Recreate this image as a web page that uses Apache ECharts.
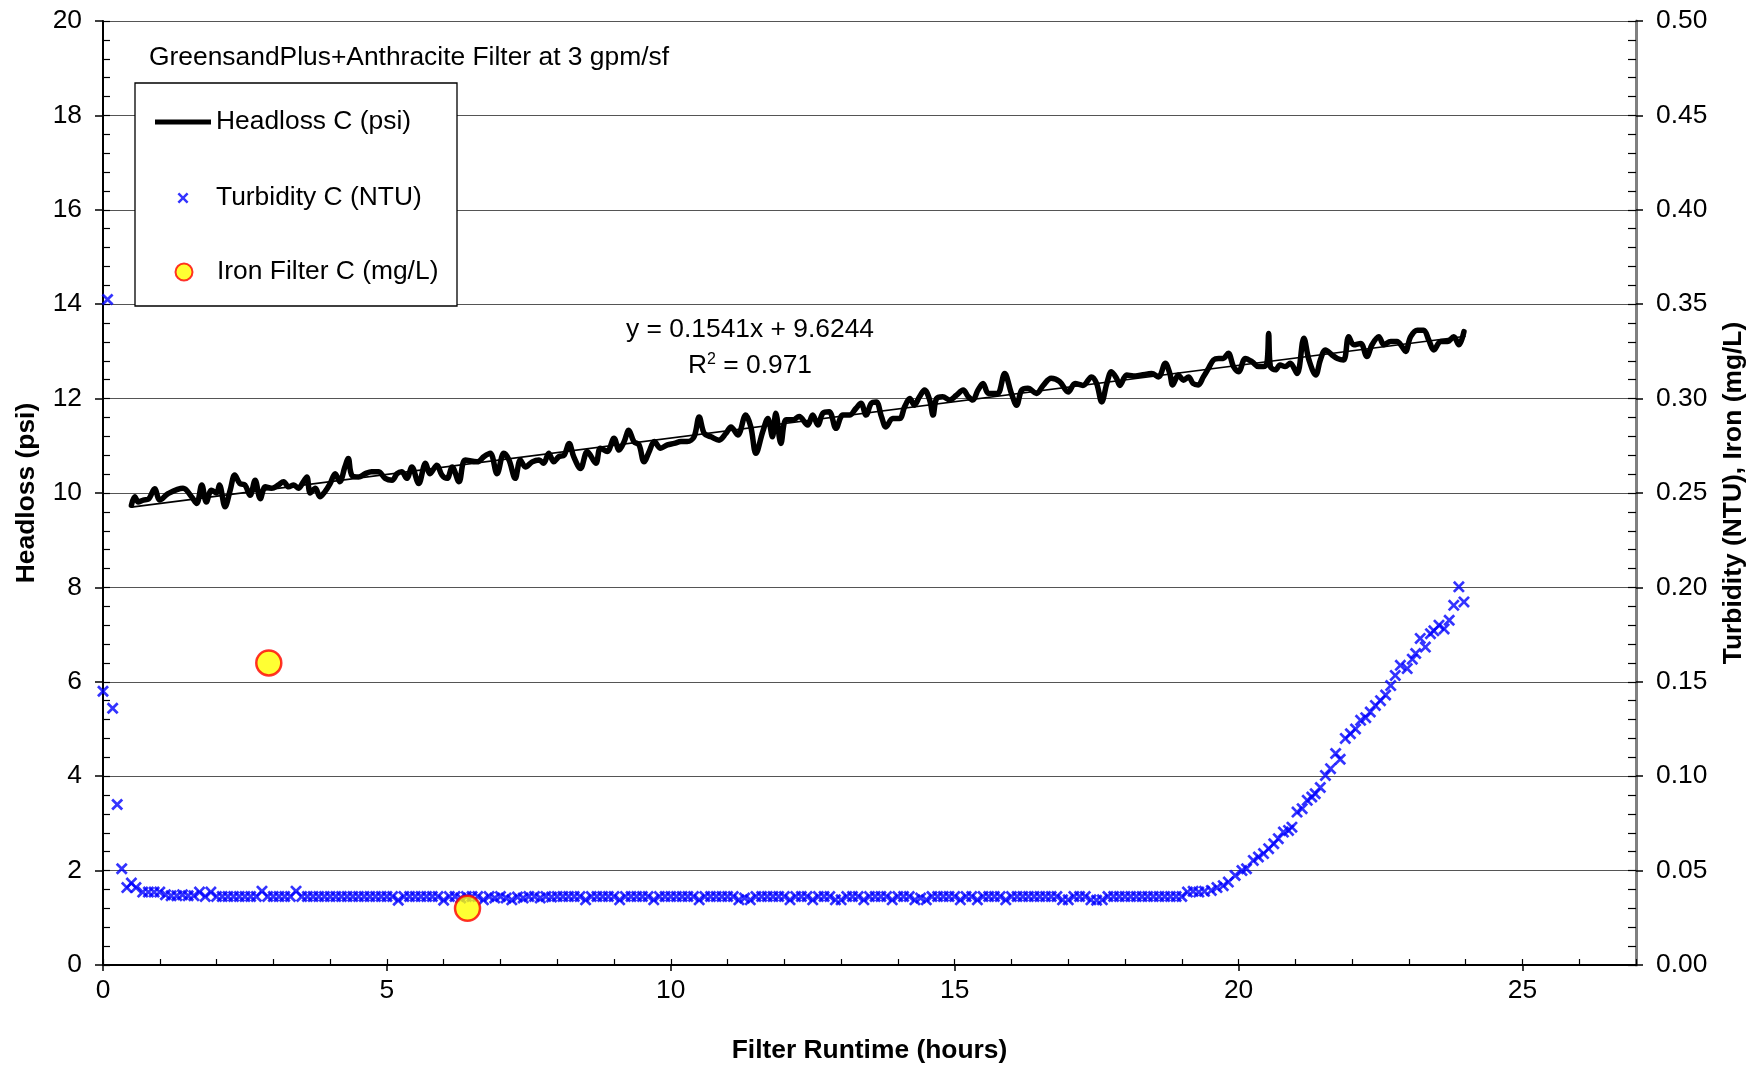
<!DOCTYPE html>
<html>
<head>
<meta charset="utf-8">
<script src="https://cdn.jsdelivr.net/npm/echarts@6/dist/echarts.min.js"></script>
<style>html,body{margin:0;padding:0;background:#fff}#chart{width:1760px;height:1065px}</style>
</head>
<body>
<div id="chart"></div>
<script>
// ---- Data ----
const chartTitle = 'GreensandPlus+Anthracite Filter at 3 gpm/sf';
const seriesNames = ['Headloss C (psi)', 'Turbidity C (NTU)', 'Iron Filter C (mg/L)'];
const xTickValues = [0, 5, 10, 15, 20, 25];
const trendEquation = 'y = 0.1541x + 9.6244';
const trendR2 = '0.971';

// Headloss C (psi) vs filter runtime (hours)
const headTime = [0.50,0.56,0.62,0.71,0.80,0.91,1.00,1.15,1.41,1.56,1.65,1.74,1.82,1.91,2.00,2.05,2.15,2.24,2.32,2.41,2.50,2.59,2.68,2.77,2.86,2.97,3.09,3.18,3.27,3.36,3.44,3.53,3.59,3.65,3.74,3.82,3.91,4.00,4.09,4.17,4.26,4.32,4.38,4.50,4.62,4.73,4.85,4.97,5.09,5.18,5.26,5.35,5.44,5.56,5.68,5.76,5.88,5.97,6.06,6.15,6.27,6.38,6.59,6.71,6.82,6.94,7.06,7.15,7.26,7.35,7.44,7.56,7.68,7.76,7.85,7.94,8.03,8.12,8.21,8.29,8.41,8.53,8.68,8.76,8.88,9.00,9.09,9.18,9.26,9.35,9.44,9.53,9.62,9.71,9.82,9.94,10.06,10.18,10.29,10.41,10.50,10.59,10.71,10.85,10.97,11.06,11.18,11.32,11.41,11.50,11.62,11.71,11.79,11.85,11.94,12.03,12.15,12.26,12.41,12.50,12.59,12.68,12.79,12.91,13.03,13.15,13.26,13.35,13.44,13.53,13.62,13.71,13.79,13.91,14.03,14.12,14.21,14.29,14.38,14.47,14.56,14.62,14.68,14.79,14.91,15.03,15.15,15.24,15.32,15.41,15.50,15.59,15.68,15.76,15.88,16.00,16.09,16.18,16.29,16.44,16.56,16.70,16.85,17.00,17.12,17.26,17.41,17.50,17.59,17.68,17.76,17.85,17.91,18.03,18.15,18.29,18.47,18.59,18.71,18.79,18.84,18.94,19.03,19.12,19.20,19.29,19.38,19.47,19.56,19.65,19.73,19.82,19.91,20.00,20.12,20.24,20.35,20.44,20.50,20.53,20.56,20.65,20.73,20.82,20.91,21.03,21.15,21.24,21.36,21.44,21.53,21.65,21.74,21.85,21.94,22.03,22.15,22.26,22.35,22.47,22.56,22.68,22.79,22.88,22.94,23.03,23.15,23.26,23.35,23.44,23.56,23.68,23.79,23.88,23.97];
const headPsi = [9.74,9.92,9.81,9.85,9.87,10.09,9.85,9.99,10.10,9.92,9.78,10.17,9.81,10.06,10.00,10.17,9.71,10.06,10.38,10.20,10.17,9.95,10.27,9.88,10.13,10.10,10.17,10.24,10.13,10.17,10.10,10.24,10.34,10.00,10.10,9.92,10.03,10.20,10.41,10.24,10.55,10.73,10.38,10.34,10.41,10.45,10.45,10.31,10.27,10.41,10.45,10.31,10.55,10.20,10.63,10.41,10.59,10.38,10.31,10.55,10.24,10.70,10.66,10.77,10.84,10.41,10.84,10.70,10.31,10.70,10.55,10.66,10.70,10.63,10.84,10.66,10.77,10.80,11.05,10.77,10.52,10.88,10.63,10.95,10.88,11.16,10.91,11.09,11.33,11.09,11.02,10.66,10.88,11.09,10.95,11.02,11.05,11.09,11.09,11.19,11.61,11.26,11.19,11.12,11.26,11.40,11.23,11.65,11.40,10.84,11.30,11.58,11.19,11.69,11.05,11.55,11.55,11.62,11.44,11.65,11.44,11.69,11.72,11.37,11.65,11.65,11.79,11.90,11.65,11.90,11.93,11.62,11.40,11.58,11.58,11.83,12.00,11.86,12.04,12.18,11.97,11.65,12.00,12.04,11.97,12.07,12.18,12.04,11.97,12.18,12.32,12.11,12.11,12.11,12.53,12.11,11.86,12.18,12.22,12.11,12.28,12.43,12.36,12.14,12.32,12.28,12.46,12.32,11.93,12.32,12.57,12.43,12.28,12.50,12.48,12.50,12.53,12.46,12.75,12.53,12.29,12.50,12.39,12.46,12.32,12.29,12.46,12.64,12.82,12.85,12.85,12.96,12.68,12.57,12.85,12.78,12.68,12.68,12.75,13.38,12.68,12.61,12.71,12.68,12.75,12.53,13.28,12.82,12.50,12.82,13.03,12.92,12.85,12.82,13.31,13.14,13.17,12.89,13.14,13.31,13.14,13.21,13.21,13.10,13.00,13.31,13.45,13.45,13.24,13.03,13.21,13.21,13.31,13.14,13.42];

// Linear trendline end points (psi)
const trendTime = [0.50, 24.00];
const trendPsi = [9.70, 13.32];

// Turbidity C (NTU)
const turbTime = [0,0.08,0.17,0.25,0.33,0.42,0.50,0.58,
0.7,0.8,0.9,
1.0,1.1,1.2,1.3,1.4,1.5,1.6,1.7,1.8,1.9,
2.0,2.1,2.2,2.3,2.4,2.5,2.6,2.7,2.8,2.9,
3.0,3.1,3.2,3.3,3.4,3.5,3.6,3.7,3.8,3.9,
4.0,4.1,4.2,4.3,4.4,4.5,4.6,4.7,4.8,4.9,
5.0,5.1,5.2,5.3,5.4,5.5,5.6,5.7,5.8,5.9,
6.0,6.1,6.2,6.3,6.4,6.5,6.6,6.7,6.8,6.9,
7.0,7.1,7.2,7.3,7.4,7.5,7.6,7.7,7.8,7.9,
8.0,8.1,8.2,8.3,8.4,8.5,8.6,8.7,8.8,8.9,
9.0,9.1,9.2,9.3,9.4,9.5,9.6,9.7,9.8,9.9,
10.0,10.1,10.2,10.3,10.4,10.5,10.6,10.7,10.8,10.9,
11.0,11.1,11.2,11.3,11.4,11.5,11.6,11.7,11.8,11.9,
12.0,12.1,12.2,12.3,12.4,12.5,12.6,12.7,12.8,12.9,
13.0,13.1,13.2,13.3,13.4,13.5,13.6,13.7,13.8,13.9,
14.0,14.1,14.2,14.3,14.4,14.5,14.6,14.7,14.8,14.9,
15.0,15.1,15.2,15.3,15.4,15.5,15.6,15.7,15.8,15.9,
16.0,16.1,16.2,16.3,16.4,16.5,16.6,16.7,16.8,16.9,
17.0,17.1,17.2,17.3,17.4,17.5,17.6,17.7,17.8,17.9,
18.0,18.1,18.2,18.3,18.4,18.5,18.6,18.7,18.8,18.9,
19.0,19.1,19.2,19.3,19.4,19.52,19.62,19.73,19.82,19.94,
20.06,20.14,20.26,20.35,20.44,20.53,20.62,20.70,20.79,20.88,20.94,
21.03,21.12,21.21,21.29,21.35,21.44,21.53,21.62,21.71,21.79,21.88,21.97,
22.06,22.15,22.24,22.32,22.41,22.50,22.59,22.68,22.76,22.85,22.97,
23.06,23.12,23.20,23.29,23.38,23.44,23.53,23.62,23.71,23.79,23.88,23.97];
const turbNTU = [0.145,0.3525,0.136,0.085,0.051,0.041,0.0434,0.041,
0.0386,0.0386,0.0386,
0.0386,0.0372,0.0367,0.0367,0.0372,0.0367,0.0367,0.0386,0.0363,0.0386,
0.0363,0.0363,0.0363,0.0363,0.0363,0.0363,0.0363,0.0363,0.0391,0.0363,
0.0363,0.0363,0.0363,0.0363,0.0391,0.0363,0.0363,0.0363,0.0363,0.0363,
0.0363,0.0363,0.0363,0.0363,0.0363,0.0363,0.0363,0.0363,0.0363,0.0363,
0.0363,0.0363,0.0343,0.0363,0.0363,0.0363,0.0363,0.0363,0.0363,0.0363,
0.0343,0.0363,0.0363,0.0355,0.0363,0.0363,0.0363,0.0345,0.0363,0.0355,
0.0363,0.0355,0.0345,0.0360,0.0355,0.0363,0.0363,0.0355,0.0363,0.0360,
0.0363,0.0363,0.0363,0.0363,0.0363,0.0345,0.0363,0.0363,0.0363,0.0363,
0.0363,0.0345,0.0363,0.0363,0.0363,0.0363,0.0363,0.0345,0.0363,0.0363,
0.0363,0.0363,0.0363,0.0363,0.0363,0.0345,0.0363,0.0363,0.0363,0.0363,
0.0363,0.0363,0.0345,0.0355,0.0345,0.0363,0.0363,0.0363,0.0363,0.0363,
0.0363,0.0345,0.0363,0.0363,0.0363,0.0345,0.0363,0.0363,0.0363,0.0345,
0.0345,0.0363,0.0363,0.0363,0.0345,0.0363,0.0363,0.0363,0.0363,0.0345,
0.0363,0.0363,0.0363,0.0345,0.0355,0.0345,0.0363,0.0363,0.0363,0.0363,
0.0363,0.0345,0.0363,0.0363,0.0345,0.0363,0.0363,0.0363,0.0363,0.0345,
0.0363,0.0363,0.0363,0.0363,0.0363,0.0363,0.0363,0.0363,0.0363,0.0345,
0.0345,0.0363,0.0363,0.0363,0.0345,0.0343,0.0345,0.0363,0.0363,0.0363,
0.0363,0.0363,0.0363,0.0363,0.0363,0.0363,0.0363,0.0363,0.0363,0.0363,
0.0363,0.0386,0.0390,0.0386,0.0390,0.0395,0.0410,0.0420,0.0439,0.0474,
0.0500,0.0510,0.0554,0.0572,0.0590,0.0616,0.0642,0.0669,0.0704,0.0713,0.0730,
0.0810,0.0828,0.0872,0.0890,0.0907,0.0940,0.1004,0.1040,0.1120,0.1090,0.1200,0.1225,
0.1250,0.1296,0.1310,0.1340,0.1375,0.1400,0.1430,0.1480,0.1534,0.1587,0.1570,
0.1620,0.1650,0.1730,0.1684,0.1755,0.1770,0.1800,0.1780,0.1826,0.1905,0.2003,0.1923];

// Iron Filter C (mg/L)
const ironTime = [2.92, 6.42];
const ironMgL = [0.160, 0.030];

// ---- Chart ----
const FONT = "'Liberation Sans', Arial, sans-serif";
const FS = 26.4;
const xMark = 'path://M0,1.6L1.6,0L5,3.4L8.4,0L10,1.6L6.6,5L10,8.4L8.4,10L5,6.6L1.6,10L0,8.4L3.4,5Z';
const zip = (a, b) => a.map((v, i) => [v, b[i]]);

const chart = echarts.init(document.getElementById('chart'), null, {renderer: 'canvas'});
const grid = {left: 103, right: 124, top: 21, bottom: 100, containLabel: false, outerBoundsMode: 'none'};
const legendText = {fontFamily: FONT, fontSize: FS, color: '#000', lineHeight: 26};

const option = {
  animation: false,
  backgroundColor: '#fff',
  textStyle: {fontFamily: FONT},
  title: {
    text: chartTitle, left: 149, top: 45, padding: 0,
    textStyle: {fontFamily: FONT, fontSize: FS, fontWeight: 'normal', color: '#000', lineHeight: 26}
  },
  grid: grid,
  graphic: [
    {type: 'rect', z: 3, shape: {x: 135, y: 83, width: 322, height: 223},
     style: {fill: '#fff', stroke: '#000', lineWidth: 1.3}},
    {type: 'text', z: 5, x: 750, y: 330,
     style: {text: trendEquation, font: FS + 'px ' + FONT, fill: '#000', align: 'center', verticalAlign: 'middle'}},
    {type: 'text', z: 5, x: 750, y: 366,
     style: {text: 'R{sup|2} = ' + trendR2, font: FS + 'px ' + FONT, fill: '#000', align: 'center', verticalAlign: 'middle',
       rich: {sup: {fontSize: 16, fontFamily: FONT, verticalAlign: 'top', padding: [0,0,12,0]}}}}
  ],
  legend: [
    {data: [{name: seriesNames[0], icon: 'rect'}], left: 155, top: 109, padding: 0,
     itemWidth: 56, itemHeight: 5, z: 4, textStyle: legendText},
    {data: [{name: seriesNames[1], icon: xMark}], left: 177.5, top: 185, padding: 0,
     itemWidth: 56, itemHeight: 11, z: 4, textStyle: legendText},
    {data: [{name: seriesNames[2], icon: 'circle', itemStyle: {color: '#ffff00', borderColor: '#ff0000', borderWidth: 2}}],
     left: 174.5, top: 259, padding: 0, itemWidth: 56, itemHeight: 17, z: 4, textStyle: legendText}
  ],
  xAxis: [
    {type: 'value', position: 'bottom', min: 0, max: 27, interval: 5,
     name: 'Filter Runtime (hours)', nameLocation: 'middle', nameGap: 73,
     nameTextStyle: {fontFamily: FONT, fontSize: FS, fontWeight: 'bold', color: '#000'},
     axisLine: {show: true, onZero: false, lineStyle: {color: '#000', width: 2}},
     axisTick: {show: true, inside: false, length: 6, lineStyle: {color: '#000', width: 1.5}},
     axisLabel: {show: true, margin: 13, fontFamily: FONT, fontSize: FS, color: '#000', showMaxLabel: false,
       formatter: v => xTickValues.includes(v) ? String(v) : ''},
     splitLine: {show: false}},
    {type: 'value', position: 'bottom', offset: 0, min: 0, max: 27, interval: 1,
     axisLine: {show: false, onZero: false}, axisLabel: {show: false}, splitLine: {show: false},
     axisTick: {show: true, inside: true, length: 6, lineStyle: {color: '#000', width: 1.2}}}
  ],
  yAxis: [
    {type: 'value', position: 'left', min: 0, max: 20, interval: 2,
     name: 'Headloss (psi)', nameLocation: 'middle', nameGap: 63, nameRotate: 90,
     nameTextStyle: {fontFamily: FONT, fontSize: FS, fontWeight: 'bold', color: '#000'},
     axisLine: {show: true, onZero: false, lineStyle: {color: '#000', width: 2}},
     axisTick: {show: true, inside: false, length: 8, lineStyle: {color: '#000', width: 1.5}},
     axisLabel: {margin: 21, fontFamily: FONT, fontSize: FS, color: '#000'},
     splitLine: {show: true, lineStyle: {color: '#555', width: 1.2}}},
    {type: 'value', position: 'right', min: 0, max: 0.5, interval: 0.05,
     name: 'Turbidity (NTU), Iron (mg/L)', nameLocation: 'middle', nameGap: 85, nameRotate: 90,
     nameTextStyle: {fontFamily: FONT, fontSize: FS, fontWeight: 'bold', color: '#000'},
     axisLine: {show: true, onZero: false, lineStyle: {color: '#808080', width: 3}},
     axisTick: {show: true, inside: false, length: 7, lineStyle: {color: '#000', width: 1.5}},
     axisLabel: {margin: 20, fontFamily: FONT, fontSize: FS, color: '#000', formatter: v => v.toFixed(2)},
     splitLine: {show: false}},
    {type: 'value', position: 'left', offset: 0, min: 0, max: 20, interval: 0.4,
     axisLine: {show: false, onZero: false}, axisLabel: {show: false}, splitLine: {show: false},
     axisTick: {show: true, inside: true, length: 7, lineStyle: {color: '#000', width: 1.2}}},
    {type: 'value', position: 'right', offset: 0, min: 0, max: 0.5, interval: 0.01,
     axisLine: {show: false, onZero: false}, axisLabel: {show: false}, splitLine: {show: false},
     axisTick: {show: true, inside: true, length: 8, lineStyle: {color: '#000', width: 1.2}}}
  ],
  series: [
    {name: seriesNames[0], type: 'line', xAxisIndex: 0, yAxisIndex: 0,
     data: zip(headTime, headPsi), smooth: 0.35, showSymbol: false, symbol: 'none',
     lineStyle: {color: '#000', width: 5.5, cap: 'round', join: 'round'}, itemStyle: {color: '#000'}, z: 3},
    {name: 'trend', type: 'line', xAxisIndex: 0, yAxisIndex: 0,
     data: zip(trendTime, trendPsi), showSymbol: false, symbol: 'none', silent: true,
     lineStyle: {color: '#000', width: 1.6}, z: 4},
    {name: seriesNames[1], type: 'scatter', xAxisIndex: 0, yAxisIndex: 1,
     data: zip(turbTime, turbNTU), symbol: xMark, symbolSize: 12, clip: false,
     itemStyle: {color: '#0000ff'}, z: 3},
    {name: seriesNames[2], type: 'scatter', xAxisIndex: 0, yAxisIndex: 1,
     data: zip(ironTime, ironMgL), symbol: 'circle', symbolSize: 25, clip: false,
     itemStyle: {color: '#ffff00', borderColor: '#ff0000', borderWidth: 2.5}, z: 5}
  ]
};
chart.setOption(option);
</script>
</body>
</html>
